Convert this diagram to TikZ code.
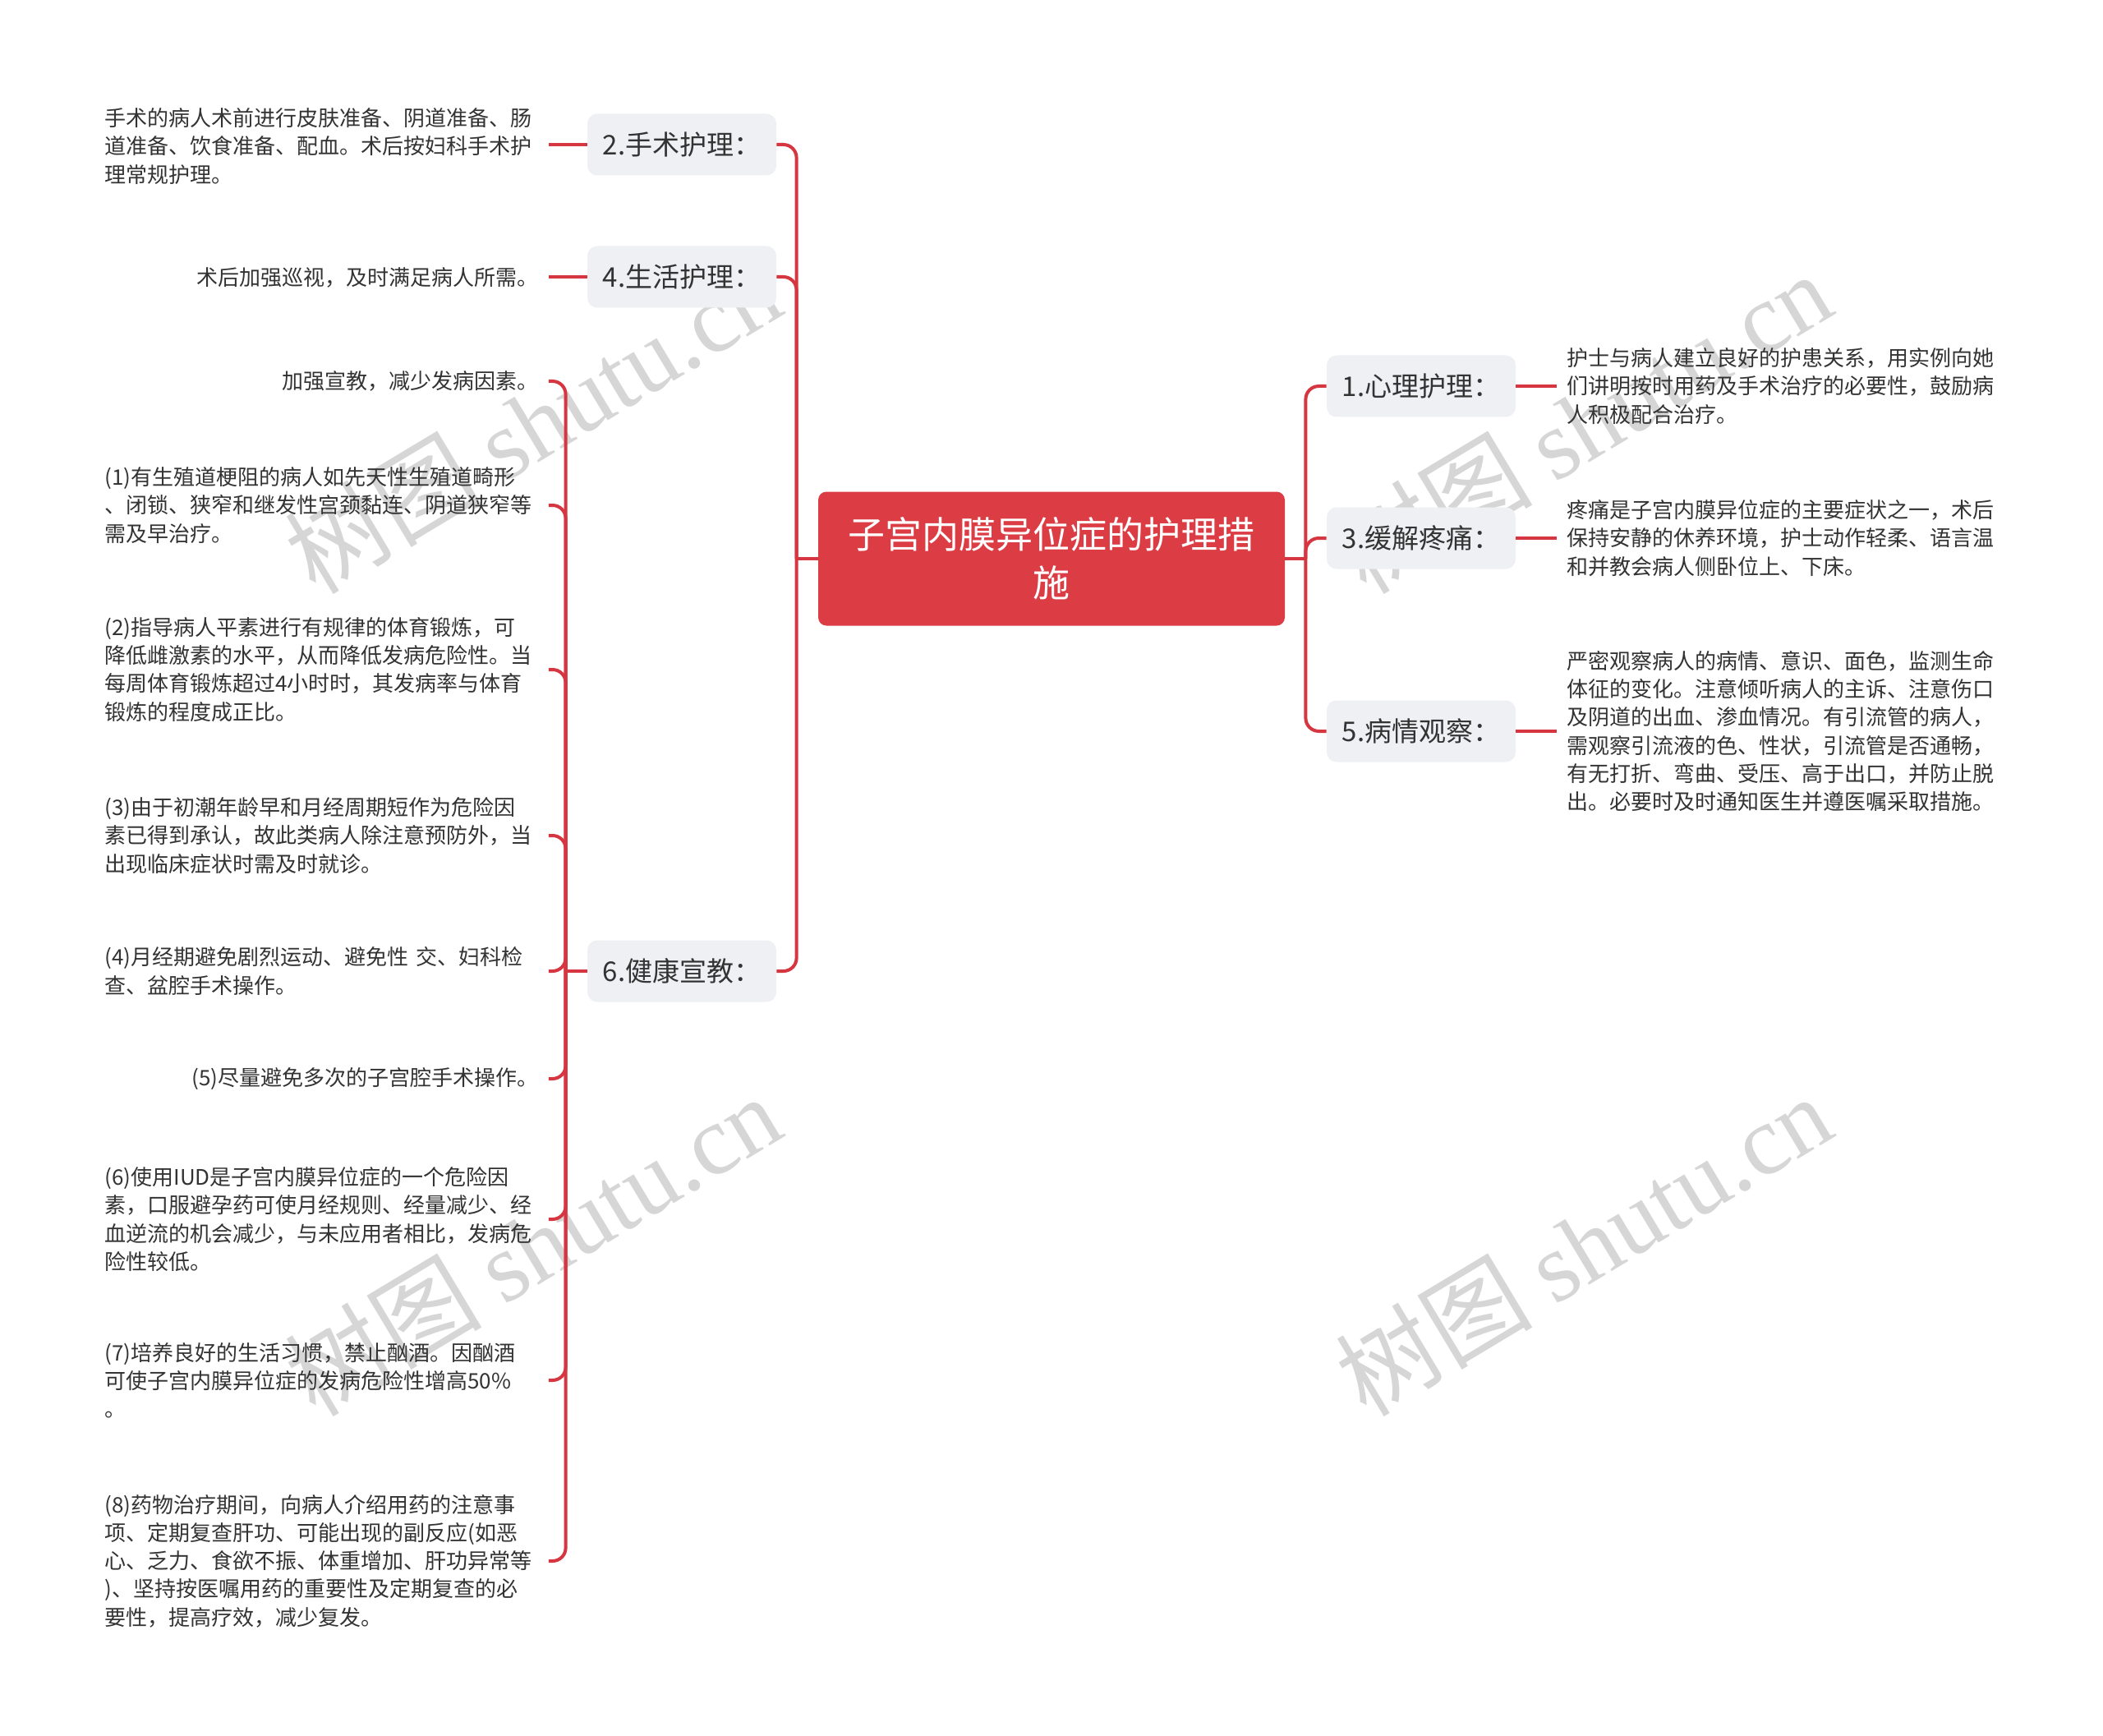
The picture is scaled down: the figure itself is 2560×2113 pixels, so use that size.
\documentclass[tikz,border=0pt]{standalone}
\usepackage{fontspec}
\usepackage{tikz}
\usetikzlibrary{positioning}
\newfontfamily\cjk{Noto Sans CJK SC}
\newfontfamily\wmlatin{Liberation Serif}
\definecolor{rootred}{HTML}{DC3D45}
\definecolor{linkred}{HTML}{D6363F}
\definecolor{boxgray}{HTML}{EEF0F3}
\definecolor{inkgray}{HTML}{333333}
\tikzset{
    rootbox/.style={fill=rootred, rounded corners=5pt, text=white, align=center,
        minimum width=284pt, minimum height=81.5pt,
        font=\cjk\fontsize{22.5}{29.5}\selectfont},
    branch/.style={fill=boxgray, rounded corners=6pt, text=inkgray,
        minimum width=115pt, minimum height=37.5pt,
        font=\cjk\fontsize{16.5}{20}\selectfont},
    leaf/.style={text=inkgray, text width=264pt, inner xsep=6pt, inner ysep=0pt,
        anchor=west, align=left, font=\cjk\fontsize{13}{17.1}\selectfont},
    link/.style={draw=linkred, line width=2pt},
    curvelink/.style={link, rounded corners=8pt},
    wm/.style={text=black!16, rotate=31, font=\fontsize{60}{60}\selectfont}
}

\begin{document}
        \begin{tikzpicture}[x=0.5pt, y=-0.5pt]
            \fill[white] (0,0) rectangle (2560,2113);
            \useasboundingbox (0,0) rectangle (2560,2113);

            \node[wm] (wm1) at (648,514) {\cjk 树图 \wmlatin shutu.cn};
            \node[wm] (wm2) at (1927,514) {\cjk 树图 \wmlatin shutu.cn};
            \node[wm] (wm3) at (648,1515) {\cjk 树图 \wmlatin shutu.cn};
            \node[wm] (wm4) at (1927,1515) {\cjk 树图 \wmlatin shutu.cn};

            \node[rootbox] (root) at (1280,680) {子宫内膜异位症的护理措\\施};

            \node[branch] (b1) at (1730,470) {1.心理护理：};
            \node[branch] (b3) at (1730,655) {3.缓解疼痛：};
            \node[branch] (b5) at (1730,890) {5.病情观察：};
            \node[branch] (b2) at (830,176) {2.手术护理：};
            \node[branch] (b4) at (830,337) {4.生活护理：};
            \node[branch] (b6) at (830,1182) {6.健康宣教：};

            \node[leaf] (r1) at (1895,470) {护士与病人建立良好的护患关系，用实例向她\\们讲明按时用药及手术治疗的必要性，鼓励病\\人积极配合治疗。};
            \node[leaf] (r3) at (1895,655) {疼痛是子宫内膜异位症的主要症状之一，术后\\保持安静的休养环境，护士动作轻柔、语言温\\和并教会病人侧卧位上、下床。};
            \node[leaf] (r5) at (1895,890) {严密观察病人的病情、意识、面色，监测生命\\体征的变化。注意倾听病人的主诉、注意伤口\\及阴道的出血、渗血情况。有引流管的病人，\\需观察引流液的色、性状，引流管是否通畅，\\有无打折、弯曲、受压、高于出口，并防止脱\\出。必要时及时通知医生并遵医嘱采取措施。};

            \node[leaf] (l2) at (115,178) {手术的病人术前进行皮肤准备、阴道准备、肠\\道准备、饮食准备、配血。术后按妇科手术护\\理常规护理。};
            \node[leaf, align=right] (l4) at (115,338) {术后加强巡视，及时满足病人所需。};

            \node[leaf, align=right] (h0) at (115,464) {加强宣教，减少发病因素。};
            \node[leaf] (h1) at (115,615) {(1)有生殖道梗阻的病人如先天性生殖道畸形\\、闭锁、狭窄和继发性宫颈黏连、阴道狭窄等\\需及早治疗。};
            \node[leaf] (h2) at (115,815) {(2)指导病人平素进行有规律的体育锻炼，可\\降低雌激素的水平，从而降低发病危险性。当\\每周体育锻炼超过4小时时，其发病率与体育\\锻炼的程度成正比。};
            \node[leaf] (h3) at (115,1017) {(3)由于初潮年龄早和月经周期短作为危险因\\素已得到承认，故此类病人除注意预防外，当\\出现临床症状时需及时就诊。};
            \node[leaf] (h4) at (115,1182) {(4)月经期避免剧烈运动、避免性 交、妇科检\\查、盆腔手术操作。};
            \node[leaf, align=right] (h5) at (115,1313) {(5)尽量避免多次的子宫腔手术操作。};
            \node[leaf] (h6) at (115,1484) {(6)使用IUD是子宫内膜异位症的一个危险因\\素，口服避孕药可使月经规则、经量减少、经\\血逆流的机会减少，与未应用者相比，发病危\\险性较低。};
            \node[leaf] (h7) at (115,1680) {(7)培养良好的生活习惯，禁止酗酒。因酗酒\\可使子宫内膜异位症的发病危险性增高50\%\\。};
            \node[leaf] (h8) at (115,1900) {(8)药物治疗期间，向病人介绍用药的注意事\\项、定期复查肝功、可能出现的副反应(如恶\\心、乏力、食欲不振、体重增加、肝功异常等\\)、坚持按医嘱用药的重要性及定期复查的必\\要性，提高疗效，减少复发。};

            \coordinate (lj) at ([xshift=-13pt]root.west);
            \coordinate (rj) at ([xshift=12.5pt]root.east);
            \coordinate (hj) at ([xshift=-13pt]b6.west);

            \draw[link] (root.west) -- (lj);
            \draw[link] (root.east) -- (rj);
            \foreach \b in {b2,b4,b6}
                \draw[curvelink] (lj) |- (\b.east);
            \foreach \b in {b1,b3,b5}
                \draw[curvelink] (rj) |- (\b.west);

            \draw[link] (b1.east) -- (b1.east -| r1.west);
            \draw[link] (b3.east) -- (b3.east -| r3.west);
            \draw[link] (b5.east) -- (b5.east -| r5.west);
            \draw[link] (b2.west) -- (b2.west -| l2.east);
            \draw[link] (b4.west) -- (b4.west -| l4.east);

            \draw[link] (b6.west) -- (hj);
            \foreach \h in {h0,h1,h2,h3,h4,h5,h6,h7,h8}
                \draw[curvelink] (hj) |- (\h.east);
        \end{tikzpicture}
\end{document}
